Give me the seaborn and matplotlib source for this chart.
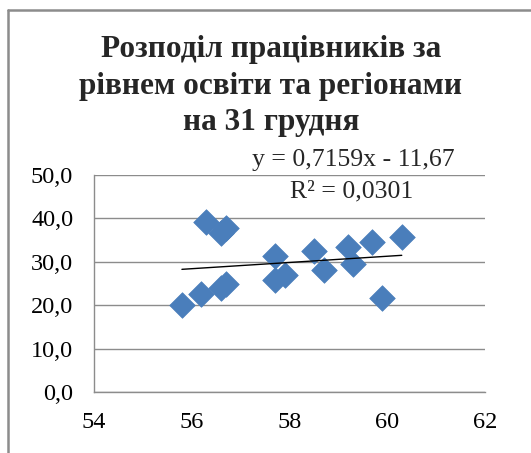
import matplotlib
matplotlib.use("Agg")
import matplotlib.pyplot as plt
from matplotlib.lines import Line2D
import numpy as np
import pandas as pd
import seaborn as sns

# values
x_vals = [55.8, 56.2, 56.3, 56.6, 56.7, 56.6, 56.7, 57.7, 57.7, 57.9,
          58.5, 58.7, 59.2, 59.3, 59.7, 59.9, 60.3]
y_vals = [20.0, 22.5, 39.2, 23.9, 24.9, 36.6, 37.7, 31.4, 25.9, 27.0,
          32.6, 28.2, 33.5, 29.6, 34.5, 21.6, 35.7]
slope = 0.7159
intercept = -11.67
x_ticks = [54, 56, 58, 60, 62]
y_ticks = [0, 10, 20, 30, 40, 50]

df = pd.DataFrame({"x": x_vals, "y": y_vals})

sns.set_style("white")
plt.rcParams['font.family'] = ['Liberation Serif', 'DejaVu Serif']

fig = plt.figure(figsize=(5.31, 4.53), dpi=100)
ax = fig.add_axes([0.177, 0.134, 0.736, 0.480])

for v in y_ticks:
    ax.axhline(v, color="#8c8c8c", lw=1, zorder=0)

sns.scatterplot(data=df, x="x", y="y", marker="D", s=170, color="#4A7EBB",
                edgecolor="#4A7EBB", linewidth=0.5, ax=ax, zorder=3)

# linear trendline
xs = np.array([min(x_vals), max(x_vals)])
ax.plot(xs, slope * xs + intercept, color="black", lw=1, zorder=4)

ax.set_xlim(54, 62)
ax.set_ylim(0, 50)
ax.set_xticks(x_ticks)
ax.set_yticks(y_ticks)
ax.set_xticklabels([str(t) for t in x_ticks])
ax.set_yticklabels([f"{t:.1f}".replace(".", ",") for t in y_ticks])
ax.set_xlabel("")
ax.set_ylabel("")

for side in ["top", "right"]:
    ax.spines[side].set_visible(False)
for side in ["left", "bottom"]:
    ax.spines[side].set_color("#8c8c8c")
    ax.spines[side].set_linewidth(1)
ax.tick_params(axis="both", which="major", direction="out", length=6, width=1,
               color="#8c8c8c", labelsize=17.5, labelcolor="black")
ax.tick_params(axis="y", pad=9)
ax.tick_params(axis="x", pad=8)

ax.text(59.3, 53.5, "y = 0,7159x - 11,67", fontsize=18.5, ha="center", va="center")
ax.text(59.27, 46.1, "R² = 0,0301", fontsize=18.5, ha="center", va="center")

fig.text(0.51, 0.81,
         "Розподіл працівників за\nрівнем освіти та регіонами\nна 31 грудня",
         fontsize=22.5, fontweight="bold", ha="center", va="center",
         linespacing=1.35)

# chart area border (left and top visible)
fig.add_artist(Line2D([0.016, 0.016], [0.0, 0.977], transform=fig.transFigure,
                      color="#8c8c8c", lw=1.8))
fig.add_artist(Line2D([0.016, 1.0], [0.977, 0.977], transform=fig.transFigure,
                      color="#8c8c8c", lw=1.8))

fig.savefig("out.png", dpi=100)
